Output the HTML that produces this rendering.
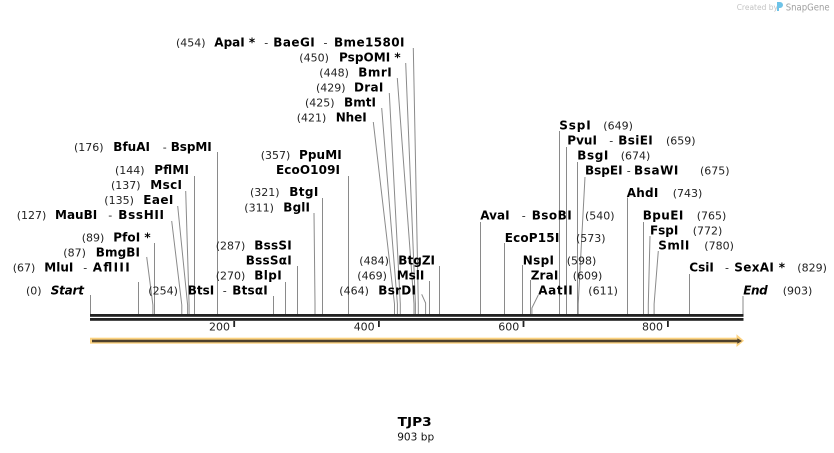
<!DOCTYPE html>
<html>
<head>
<meta charset="utf-8">
<style>
html,body{margin:0;padding:0;background:#fff;}
svg{display:block;}
.n{font-family:"DejaVu Sans","Liberation Sans",sans-serif;font-size:11px;fill:#222;}
.b{font-family:"DejaVu Sans","Liberation Sans",sans-serif;font-size:12px;font-weight:bold;fill:#000;}
.bi{font-family:"DejaVu Sans","Liberation Sans",sans-serif;font-size:12px;font-weight:bold;font-style:italic;fill:#000;}
.s{font-family:"DejaVu Sans","Liberation Sans",sans-serif;font-size:11px;fill:#222;}
.l{stroke:#8a8a8a;stroke-width:1;fill:none;}
</style>
</head>
<body>
<svg width="834" height="453" viewBox="0 0 834 453" xmlns="http://www.w3.org/2000/svg">
<rect width="834" height="453" fill="#fff"/>

<!-- watermark -->
<text x="736.7" y="10" font-family="DejaVu Sans, Liberation Sans, sans-serif" font-size="7.5" fill="#c4c4c4">Created by</text>
<path d="M777 2 h3 a3 3 0 0 1 0 6 h-1 v3 h-2 z" fill="#6ec3e8"/>
<text x="785.7" y="10.5" font-family="DejaVu Sans, Liberation Sans, sans-serif" font-size="10" fill="#a0a0a0" textLength="44" lengthAdjust="spacingAndGlyphs">SnapGene</text>

<!-- connector lines -->
<g class="l">
<polyline points="90.5,295 90.5,314"/>
<polyline points="138.5,282 138.5,314"/>
<polyline points="146.7,257 152.9,305 152.9,314"/>
<polyline points="154.5,243 154.5,314"/>
<polyline points="171.7,221 181.8,305 181.8,314"/>
<polyline points="177.7,206 187.6,305 187.6,314"/>
<polyline points="185.7,191 189.1,305 189.1,314"/>
<polyline points="194.5,176 194.5,314"/>
<polyline points="217.5,152 217.5,314"/>
<polyline points="273.5,296 273.5,314"/>
<polyline points="285.5,282 285.5,314"/>
<polyline points="297.5,266 297.5,314"/>
<polyline points="314,213 315,303 315,314"/>
<polyline points="322.5,198 322.5,314"/>
<polyline points="348.5,176 348.5,314"/>
<polyline points="373.3,122 394.5,304 394.5,314"/>
<polyline points="381.7,108 397.4,304 397.4,314"/>
<polyline points="389.3,93 400.3,304 400.3,314"/>
<polyline points="397.3,78 414,304 414,314"/>
<polyline points="405.7,63 415.4,304 415.4,314"/>
<polyline points="413.3,48 418.3,304 418.3,314"/>
<polyline points="421.7,294.3 425.6,303 425.6,314"/>
<polyline points="429.5,281 429.5,314"/>
<polyline points="439.5,266 439.5,314"/>
<polyline points="480.5,222 480.5,314"/>
<polyline points="504.5,243 504.5,314"/>
<polyline points="522.5,265 522.5,314"/>
<polyline points="530.5,280 530.5,314"/>
<polyline points="538.3,295 531.9,308 531.9,314"/>
<polyline points="559.5,131 559.5,314"/>
<polyline points="566.5,147 566.5,314"/>
<polyline points="577.5,162 577.5,314"/>
<polyline points="585,177 578.2,304 578.2,314"/>
<polyline points="627.5,197.5 627.5,314"/>
<polyline points="643.5,222 643.5,314"/>
<polyline points="650,236 648.3,304 648.3,314"/>
<polyline points="658.3,251 654.1,304 654.1,314"/>
<polyline points="689.5,274 689.5,314"/>
<polyline points="743,296 743,314"/>
</g>

<!-- sequence lines -->
<rect x="90" y="314" width="653.5" height="2.8" fill="#222"/>
<rect x="90" y="318" width="653.5" height="2.8" fill="#222"/>

<!-- ticks -->
<rect x="233.3" y="321" width="1.8" height="6" fill="#222"/>
<rect x="378" y="321" width="1.8" height="6" fill="#222"/>
<rect x="522.6" y="321" width="1.8" height="6" fill="#222"/>
<rect x="667" y="321" width="1.8" height="6" fill="#222"/>
<text class="s" x="230" y="330.5" text-anchor="end">200</text>
<text class="s" x="374.7" y="330.5" text-anchor="end">400</text>
<text class="s" x="519.3" y="330.5" text-anchor="end">600</text>
<text class="s" x="663" y="330.5" text-anchor="end">800</text>

<!-- feature arrow -->
<rect x="90" y="337.7" width="647" height="6" fill="#fcd27f"/>
<polygon points="736.5,334.3 744,340.7 736.5,347" fill="#fcd27f"/>
<rect x="92" y="339.7" width="646" height="2.6" fill="#4d402c"/>
<polygon points="737.3,338.3 742,341 737.3,343.7" fill="#4d402c"/>

<!-- left stack -->
<text class="n" x="74" y="151">(176)</text><text class="b" x="113.3" y="151">BfuAI</text><text class="s" x="162.7" y="151">-</text><text class="b" x="170.7" y="151" textLength="41" lengthAdjust="spacing">BspMI</text>
<text class="n" x="115" y="174">(144)</text><text class="b" x="154.3" y="174" textLength="34.7" lengthAdjust="spacing">PflMI</text>
<text class="n" x="111" y="189">(137)</text><text class="b" x="150.3" y="189" textLength="31.7" lengthAdjust="spacing">MscI</text>
<text class="n" x="104.3" y="204">(135)</text><text class="b" x="143.3" y="204" textLength="30" lengthAdjust="spacing">EaeI</text>
<text class="n" x="16.7" y="219">(127)</text><text class="b" x="55" y="219">MauBI</text><text class="s" x="108.3" y="219">-</text><text class="b" x="118.3" y="219" textLength="45.7" lengthAdjust="spacing">BssHII</text>
<text class="n" x="81.7" y="241.5">(89)</text><text class="b" x="113.3" y="241.5" textLength="37.4" lengthAdjust="spacing">PfoI *</text>
<text class="n" x="63.3" y="256.5">(87)</text><text class="b" x="95.7" y="256.5" textLength="44.3" lengthAdjust="spacing">BmgBI</text>
<text class="n" x="12.7" y="271.5">(67)</text><text class="b" x="44.3" y="271.5">MluI</text><text class="s" x="83.3" y="271.5">-</text><text class="b" x="92.7" y="271.5" textLength="37" lengthAdjust="spacing">AflIII</text>
<text class="n" x="26" y="294.3">(0)</text><text class="bi" x="50.7" y="294.3" textLength="33.3" lengthAdjust="spacing">Start</text>

<!-- middle -->
<text class="n" x="148.3" y="294.3">(254)</text><text class="b" x="187.7" y="294.3">BtsI</text><text class="s" x="222.7" y="294.3">-</text><text class="b" x="232.3" y="294.3" textLength="35.4" lengthAdjust="spacing">BtsαI</text>
<text class="n" x="215.7" y="279.3">(270)</text><text class="b" x="254.3" y="279.3" textLength="27.4" lengthAdjust="spacing">BlpI</text>
<text class="b" x="245.7" y="264.3" textLength="46" lengthAdjust="spacing">BssSαI</text>
<text class="n" x="215.7" y="249.3">(287)</text><text class="b" x="254.3" y="249.3" textLength="37.4" lengthAdjust="spacing">BssSI</text>
<text class="n" x="244.3" y="211.3">(311)</text><text class="b" x="283.3" y="211.3" textLength="26.7" lengthAdjust="spacing">BglI</text>
<text class="n" x="250" y="196">(321)</text><text class="b" x="289.3" y="196" textLength="29" lengthAdjust="spacing">BtgI</text>
<text class="b" x="276" y="174" textLength="64" lengthAdjust="spacing">EcoO109I</text>
<text class="n" x="260.7" y="159">(357)</text><text class="b" x="299" y="159" textLength="42.7" lengthAdjust="spacing">PpuMI</text>
<text class="n" x="296.7" y="121.5">(421)</text><text class="b" x="335.7" y="121.5" textLength="31" lengthAdjust="spacing">NheI</text>
<text class="n" x="305" y="106.5">(425)</text><text class="b" x="344" y="106.5" textLength="32" lengthAdjust="spacing">BmtI</text>
<text class="n" x="316" y="91.5">(429)</text><text class="b" x="354" y="91.5" textLength="29.3" lengthAdjust="spacing">DraI</text>
<text class="n" x="319.3" y="76.5">(448)</text><text class="b" x="358.3" y="76.5" textLength="33.4" lengthAdjust="spacing">BmrI</text>
<text class="n" x="299.3" y="61.5">(450)</text><text class="b" x="339" y="61.5" textLength="61.7" lengthAdjust="spacing">PspOMI *</text>
<text class="n" x="176" y="46.5">(454)</text><text class="b" x="214.3" y="46.5">ApaI *</text><text class="s" x="264.3" y="46.5">-</text><text class="b" x="273.3" y="46.5" textLength="41.4" lengthAdjust="spacing">BaeGI</text><text class="s" x="323.5" y="46.5">-</text><text class="b" x="334" y="46.5" textLength="70.5" lengthAdjust="spacing">Bme1580I</text>
<text class="n" x="339.3" y="294.3">(464)</text><text class="b" x="378.3" y="294.3" textLength="37.7" lengthAdjust="spacing">BsrDI</text>
<text class="n" x="357.3" y="279.3">(469)</text><text class="b" x="396.7" y="279.3" textLength="27.6" lengthAdjust="spacing">MslI</text>
<text class="n" x="359.3" y="264.3">(484)</text><text class="b" x="398.3" y="264.3" textLength="36.7" lengthAdjust="spacing">BtgZI</text>

<!-- right -->
<text class="b" x="559.3" y="129.5" textLength="31.4" lengthAdjust="spacing">SspI</text><text class="n" x="603.3" y="129.5">(649)</text>
<text class="b" x="567.3" y="144.5">PvuI</text><text class="s" x="609.3" y="144.5">-</text><text class="b" x="618.3" y="144.5" textLength="34.4" lengthAdjust="spacing">BsiEI</text><text class="n" x="666" y="144.5">(659)</text>
<text class="b" x="577.3" y="159.5" textLength="31" lengthAdjust="spacing">BsgI</text><text class="n" x="620.7" y="159.5">(674)</text>
<text class="b" x="585" y="174.5">BspEI</text><text class="s" x="626.7" y="174.5">-</text><text class="b" x="634" y="174.5" textLength="44.4" lengthAdjust="spacing">BsaWI</text><text class="n" x="700" y="174.5">(675)</text>
<text class="b" x="626.7" y="197" textLength="31.6" lengthAdjust="spacing">AhdI</text><text class="n" x="672.7" y="197">(743)</text>
<text class="b" x="480.3" y="219.5">AvaI</text><text class="s" x="521.7" y="219.5">-</text><text class="b" x="531.7" y="219.5" textLength="40" lengthAdjust="spacing">BsoBI</text><text class="n" x="585" y="219.5">(540)</text>
<text class="b" x="642.7" y="219.5" textLength="40.6" lengthAdjust="spacing">BpuEI</text><text class="n" x="696.7" y="219.5">(765)</text>
<text class="b" x="650" y="234.5" textLength="28.3" lengthAdjust="spacing">FspI</text><text class="n" x="692.7" y="234.5">(772)</text>
<text class="b" x="504.7" y="242" textLength="54.6" lengthAdjust="spacing">EcoP15I</text><text class="n" x="576" y="242">(573)</text>
<text class="b" x="658.3" y="249.5" textLength="31" lengthAdjust="spacing">SmlI</text><text class="n" x="704.3" y="249.5">(780)</text>
<text class="b" x="522.7" y="264.5" textLength="31.3" lengthAdjust="spacing">NspI</text><text class="n" x="566.7" y="264.5">(598)</text>
<text class="b" x="689.3" y="271.5">CsiI</text><text class="s" x="725" y="271.5">-</text><text class="b" x="734.3" y="271.5" textLength="50.7" lengthAdjust="spacing">SexAI *</text><text class="n" x="797.3" y="271.5">(829)</text>
<text class="b" x="530.7" y="279.5" textLength="27.6" lengthAdjust="spacing">ZraI</text><text class="n" x="572.7" y="279.5">(609)</text>
<text class="b" x="538.3" y="294.5" textLength="34.4" lengthAdjust="spacing">AatII</text><text class="n" x="588.3" y="294.5">(611)</text>
<text class="bi" x="743.3" y="294.5" textLength="24.4" lengthAdjust="spacing">End</text><text class="n" x="782.7" y="294.5">(903)</text>

<!-- title -->
<text x="414.7" y="426" text-anchor="middle" font-family="DejaVu Sans, Liberation Sans, sans-serif" font-size="12.5" font-weight="bold" fill="#000" textLength="34" lengthAdjust="spacingAndGlyphs">TJP3</text>
<text x="415.7" y="440.5" text-anchor="middle" font-family="DejaVu Sans, Liberation Sans, sans-serif" font-size="11" fill="#111" textLength="37" lengthAdjust="spacingAndGlyphs">903 bp</text>
</svg>
</body>
</html>
